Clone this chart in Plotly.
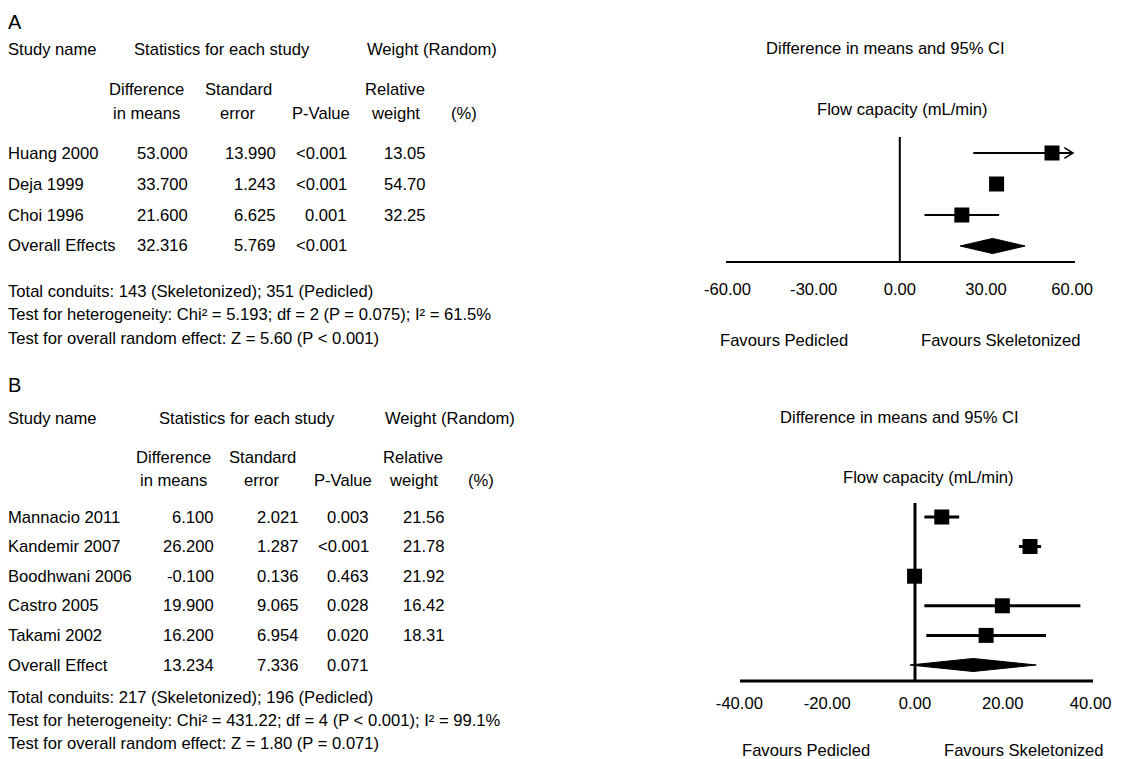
import plotly.graph_objects as go

# ---------------- data ----------------
A_studies = ["Huang 2000", "Deja 1999", "Choi 1996", "Overall Effects"]
A_diff = [53.000, 33.700, 21.600, 32.316]
A_se = [13.990, 1.243, 6.625, 5.769]
A_p = ["<0.001", "<0.001", "0.001", "<0.001"]
A_weight = [13.05, 54.70, 32.25, None]
A_ticks = [-60, -30, 0, 30, 60]
A_foot = ["Total conduits: 143 (Skeletonized); 351 (Pedicled)",
          "Test for heterogeneity: Chi² = 5.193; df = 2 (P = 0.075); I² = 61.5%",
          "Test for overall random effect: Z = 5.60 (P < 0.001)"]

B_studies = ["Mannacio 2011", "Kandemir 2007", "Boodhwani 2006", "Castro 2005", "Takami 2002", "Overall Effect"]
B_diff = [6.100, 26.200, -0.100, 19.900, 16.200, 13.234]
B_se = [2.021, 1.287, 0.136, 9.065, 6.954, 7.336]
B_p = ["0.003", "<0.001", "0.463", "0.028", "0.020", "0.071"]
B_weight = [21.56, 21.78, 21.92, 16.42, 18.31, None]
B_ticks = [-40, -20, 0, 20, 40]
B_foot = ["Total conduits: 217 (Skeletonized); 196 (Pedicled)",
          "Test for heterogeneity: Chi² = 431.22; df = 4 (P < 0.001); I² = 99.1%",
          "Test for overall random effect: Z = 1.80 (P = 0.071)"]

Z = 1.96
OFF = 8                      # default page body margin
W, H = 1129 - OFF, 759 - OFF
FONT = "Liberation Sans, Arial, sans-serif"
FS = 16.6
PAD = 2                      # annotation box padding


def px(x):
    return (x - OFF) / W


def py(y):
    return 1 - (y - OFF) / H


fig = go.Figure()
annotations = []


def text(x, y, s, anchor="left", size=FS):
    if anchor == "left":
        x = max(x - PAD, OFF - PAD)
    elif anchor == "right":
        x += PAD
    annotations.append(dict(x=px(x), y=py(y), xref="paper", yref="paper", text=s,
                            showarrow=False, xanchor=anchor, yanchor="middle",
                            font=dict(family=FONT, size=size, color="black")))


def line(xa, ya, x, y, w):
    fig.add_trace(go.Scatter(x=x, y=y, mode="lines", line=dict(color="black", width=w),
                             xaxis=xa, yaxis=ya, hoverinfo="skip", showlegend=False))


def panel(c, studies, diff, se, pvals, weights, ticks, foot):
    xa, ya, lw = c["xa"], c["ya"], c["lw"]
    clip = max(ticks)
    n = len(studies)
    # axis line and zero line
    line(xa, ya, list(c["axline"]), [c["ybot"], c["ybot"]], lw)
    line(xa, ya, [0, 0], [c["ytop"], c["ybot"]], lw)
    # CI lines
    lx, ly, arrows = [], [], []
    for r in range(n - 1):
        lo, hi = diff[r] - Z * se[r], diff[r] + Z * se[r]
        lx += [max(lo, -clip), min(hi, clip), None]
        ly += [r, r, None]
        if hi > clip:
            arrows.append(r)
    line(xa, ya, lx, ly, lw)
    for r in arrows:
        ah = clip * 0.045
        line(xa, ya, [clip - ah, clip * 1.005, clip - ah], [r - 0.17, r, r + 0.17], 1.5)
    # squares
    fig.add_trace(go.Scatter(x=diff[:-1], y=list(range(n - 1)), mode="markers",
                             marker=dict(symbol="square", size=15, color="black"),
                             xaxis=xa, yaxis=ya, hoverinfo="skip", showlegend=False))
    # diamond
    d, s, r = diff[-1], se[-1], n - 1
    hh = c["dh"]
    fig.add_trace(go.Scatter(x=[d - Z * s, d, d + Z * s, d, d - Z * s],
                             y=[r, r - hh, r, r + hh, r], mode="lines", fill="toself",
                             fillcolor="black", line=dict(color="black", width=1),
                             xaxis=xa, yaxis=ya, hoverinfo="skip", showlegend=False))

    # table text
    text(c["x0"], c["ylab"], c["label"], size=20)
    text(c["x0"], c["yh1"], "Study name")
    text(c["cstat"], c["yh1"], "Statistics for each study", "center")
    text(c["cwt"], c["yh1"], "Weight (Random)", "center")
    text(c["cdiff"], c["yh2"], "Difference", "center")
    text(c["cdiff"], c["yh3"], "in means", "center")
    text(c["cse"], c["yh2"], "Standard", "center")
    text(c["cse"], c["yh3"], "error", "center")
    text(c["cp"], c["yh3"], "P-Value", "center")
    text(c["crw"], c["yh2"], "Relative", "center")
    text(c["crw"], c["yh3"], "weight", "center")
    text(c["cpct"], c["yh3"], "(%)", "center")
    for i in range(n):
        yy = c["row0"] + i * c["dy"]
        text(c["x0"], yy, studies[i])
        text(c["rdiff"], yy, f"{diff[i]:.3f}", "right")
        text(c["rse"], yy, f"{se[i]:.3f}", "right")
        text(c["rp"], yy, pvals[i], "right")
        if weights[i] is not None:
            text(c["rw"], yy, f"{weights[i]:.2f}", "right")
    for j, ln in enumerate(foot):
        text(c["x0"], c["yfoot"] + j * c["dfoot"], ln)
    text(c["cci"], c["yci"], "Difference in means and 95% CI", "center")
    text(c["cflow"], c["yflow"], "Flow capacity (mL/min)", "center")
    text(c["cfp"], c["yfav"], "Favours Pedicled", "center")
    text(c["cfs"], c["yfav"], "Favours Skeletonized", "center")


# panel A geometry (screen pixels): zero at 899.8, 2.872 px/unit; rows at 153 + 31 r
cfgA = dict(xa="x", ya="y", lw=2, dh=0.245, ytop=-0.516, ybot=3.516, axline=(-60.5, 61.0),
            label="A", x0=8, ylab=22, yh1=50, yh2=89, yh3=113,
            cstat=222, cwt=432, cdiff=146, cse=238, cp=321, crw=395, cpct=464,
            row0=153, dy=31, rdiff=188, rse=276, rp=347, rw=426, yfoot=291, dfoot=23.5,
            cci=885, yci=48, cflow=902, yflow=110, cfp=784, cfs=1001, yfav=340)
# panel B geometry: zero at 915, 4.39 px/unit; rows at 517 + 29.6 r
cfgB = dict(xa="x2", ya="y2", lw=3, dh=0.22, ytop=-0.473, ybot=5.54, axline=(-39.86, 40.55),
            label="B", x0=8, ylab=385, yh1=418, yh2=457, yh3=480,
            cstat=247, cwt=450, cdiff=173, cse=262, cp=343, crw=413, cpct=481,
            row0=517, dy=29.6, rdiff=214, rse=299, rp=369, rw=445, yfoot=697, dfoot=23,
            cci=899, yci=417, cflow=928, yflow=478, cfp=806, cfs=1024, yfav=750)

panel(cfgA, A_studies, A_diff, A_se, A_p, A_weight, A_ticks, A_foot)
panel(cfgB, B_studies, B_diff, B_se, B_p, B_weight, B_ticks, B_foot)


def xaxis(rng, zero, scale, ticks, standoff, anchor):
    dom = (zero + rng[0] * scale, zero + rng[1] * scale)
    return dict(range=list(rng), domain=[px(dom[0]), px(dom[1])], showline=False,
                showgrid=False, zeroline=False, anchor=anchor,
                tickvals=ticks, ticktext=[f"{t:.2f}" for t in ticks], ticks="",
                ticklabelstandoff=standoff, fixedrange=True,
                tickfont=dict(family=FONT, size=FS, color="black"))


def yaxis(top_px, bot_px, row0, dy, anchor):
    return dict(range=[(bot_px - row0) / dy, (top_px - row0) / dy],
                domain=[py(bot_px), py(top_px)], visible=False,
                fixedrange=True, anchor=anchor)


fig.update_layout(
    width=W, height=H, margin=dict(l=0, r=0, t=0, b=0, autoexpand=False),
    paper_bgcolor="white", plot_bgcolor="white", showlegend=False,
    xaxis=xaxis((-62, 62), 899.8, 2.872, A_ticks, 13, "y"),
    yaxis=yaxis(130, 264, 153, 31, "x"),
    xaxis2=xaxis((-41, 41.5), 915, 4.39, B_ticks, 8, "y2"),
    yaxis2=yaxis(495, 683, 517, 29.6, "x2"),
    annotations=annotations,
)

fig.write_html("out.html")
